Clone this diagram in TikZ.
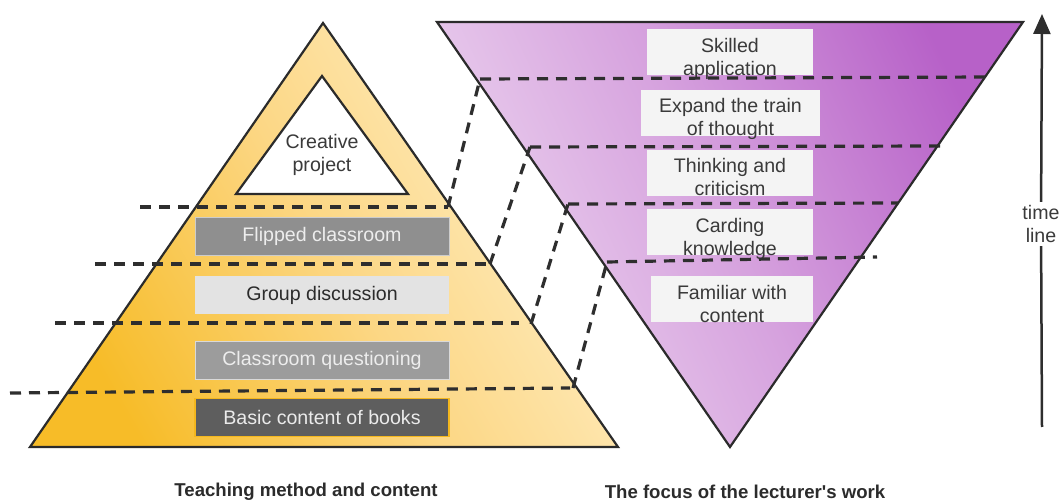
\documentclass[tikz,border=0pt]{standalone}
\usepackage{fontspec}
\setmainfont{Liberation Sans}
\usetikzlibrary{arrows.meta}

\definecolor{yelDeep}{HTML}{F7BC28}
\definecolor{yelMid}{HTML}{FCD785}
\definecolor{yelPale}{HTML}{FFEFC8}
\definecolor{purDeep}{HTML}{B761C8}
\definecolor{purMid}{HTML}{D6A2DE}
\definecolor{purPale}{HTML}{EDD6F0}
\definecolor{inkGray}{HTML}{2B2B2B}
\definecolor{dashGray}{HTML}{2E2E2E}
\definecolor{txtGray}{HTML}{3A3A3A}
\definecolor{boxPale}{HTML}{F4F4F4}
\definecolor{bookEdge}{HTML}{F4B71E}

\tikzset{
    rim/.style={draw=inkGray, line width=1.1pt},
    cut/.style={draw=dashGray, line width=1.6pt, dash pattern=on 5.5pt off 4pt},
    boxfont/.style={font=\fontsize{9.8}{11.5}\selectfont},
    methodbox/.style={boxfont, minimum width=127pt, minimum height=19pt, inner sep=0pt},
    focusbox/.style={boxfont, fill=boxPale, text=txtGray, align=center,
        minimum width=83pt, minimum height=22.5pt, inner sep=0pt,
        text height=23pt, text depth=-0.5pt},
    axisline/.style={draw=dashGray, line width=1.25pt},
    caption/.style={font=\fontsize{9.3}{11}\selectfont\bfseries, text=inkGray}
}

\begin{document}
\begin{tikzpicture}[x=0.5pt, y=-0.5pt]
    \useasboundingbox (0,0) rectangle (1061,502);

    % teaching pyramid
    \path[rim, bottom color=yelDeep, top color=yelPale, middle color=yelMid, shading angle=-60]
        (323,23) -- (30,447) -- (618,447) -- cycle;
    \draw[rim, fill=white] (322,76) -- (236,194) -- (408,194) -- cycle;
    \node[boxfont, align=center, text=txtGray] (creative) at (322,155) {Creative\\project};

    \node[methodbox, fill=black!44, draw=black!20, line width=0.4pt, text=white!93!black] (flipped) at (322,236) {Flipped classroom};
    \node[methodbox, fill=black!11, text=inkGray] (group) at (322,295) {Group discussion};
    \node[methodbox, fill=black!39, draw=black!15, line width=0.4pt, text=white!93!black] (questioning) at (322,360) {Classroom questioning};
    \node[methodbox, fill=black!63, draw=bookEdge, line width=0.8pt, text=white!92!black] (books) at (322,417.5) {Basic content of books};

    % lecturer's focus funnel
    \path[rim, bottom color=purPale, top color=purDeep, middle color=purMid, shading angle=-65]
        (437,22) -- (1023,22) -- (730,447) -- cycle;

    \node[focusbox] (skilled) at (730,52.5) {Skilled\\application};
    \node[focusbox, minimum width=89.5pt] (expand) at (730.5,113) {Expand the train\\of thought};
    \node[focusbox] (thinking) at (730,173) {Thinking and\\criticism};
    \node[focusbox] (carding) at (730,232.5) {Carding\\knowledge};
    \node[focusbox, minimum width=81pt] (familiar) at (732,299.5) {Familiar with\\content};

    % level cuts
    \coordinate (m1) at (448,207);
    \coordinate (m2) at (490,264);
    \coordinate (m3) at (531,324);
    \coordinate (m4) at (573,388);
    \coordinate (f1) at (480,79);
    \coordinate (f2) at (530,147);
    \coordinate (f3) at (568,204);
    \coordinate (f4) at (607,262);

    \draw[cut] (140,207) -- (m1);
    \draw[cut] (95,264) -- (486,264);
    \draw[cut] (55,323) -- (519,323);
    \draw[cut] (10,393) -- (570,388);

    \draw[cut] (f1) -- (988,77);
    \draw[cut] (f2) -- (940,146);
    \draw[cut] (f3) -- (898,203);
    \draw[cut] (f4) -- (877,257);

    \draw[cut] (m1) -- (f1);
    \draw[cut] (m2) -- (f2);
    \draw[cut] (m3) -- (f3);
    \draw[cut] (m4) -- (f4);

    % time axis
    \node[boxfont, align=center, text=txtGray, inner sep=1.5pt] (timeline) at (1041,224) {time\\line};
    \coordinate (tlow) at (1042,427);
    \coordinate (thigh) at (1042,14);
    \draw[axisline] (tlow) -- (timeline);
    \draw[axisline, -{Triangle[width=8.5pt, length=10pt]}] (timeline) -- (thigh);

    \node[caption] (leftcap) at (306,492) {Teaching method and content};
    \node[caption] (rightcap) at (745,492) {The focus of the lecturer\textquotesingle s work};
\end{tikzpicture}
\end{document}
